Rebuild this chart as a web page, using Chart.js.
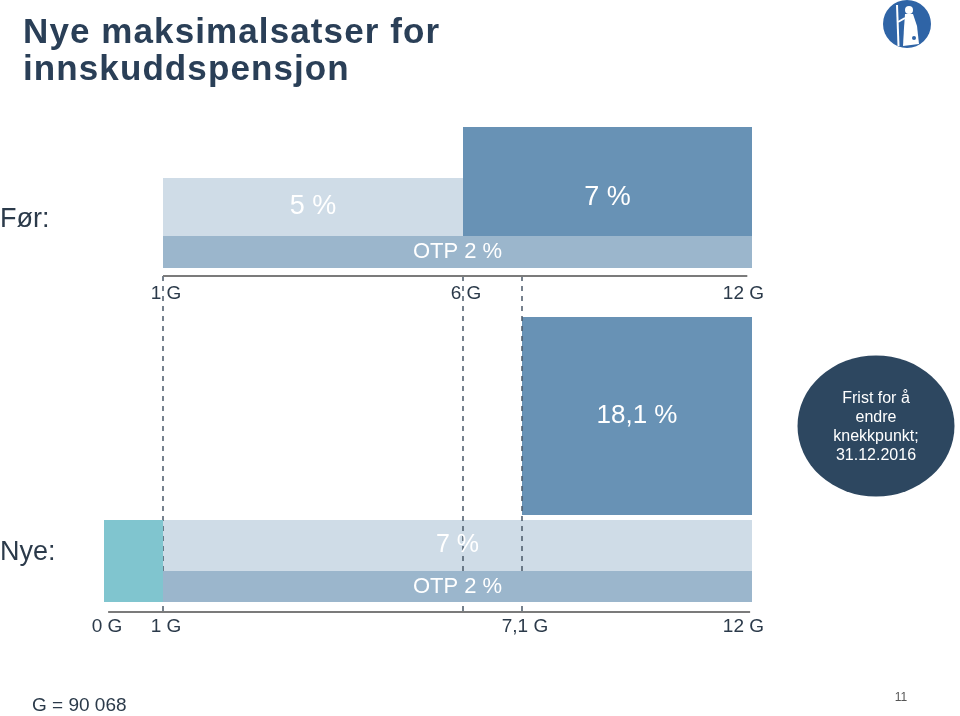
<!DOCTYPE html>
<html>
<head>
<meta charset="utf-8">
<script src="https://cdn.jsdelivr.net/npm/chart.js@4/dist/chart.umd.min.js"></script>
<style>
html,body{margin:0;padding:0;background:#ffffff;overflow:hidden}
canvas{display:block}
</style>
</head>
<body>
<canvas id="c" width="960" height="716"></canvas>
<script>
// ---------------- data ----------------
const titleLines = ['Nye maksimalsatser for', 'innskuddspensjon'];
const rowLabels = ['Før:', 'Nye:'];
const breakpointsG = [0, 1, 6, 7.1, 12];
const forTicksG = [1, 6, 12];
const nyeTicksG = [0, 1, 7.1, 12];
const forBlockLabels = ['5 %', '7 %', 'OTP 2 %'];
const forBlockFromG = [1, 6, 1];
const forBlockToG = [6, 12, 12];
const nyeBlockLabels = ['', '7 %', 'OTP 2 %', '18,1 %'];
const nyeBlockFromG = [0, 1, 1, 7.1];
const nyeBlockToG = [1, 12, 12, 12];
const knekkpunktG = [1, 6, 7.1];
const noteLines = ['Frist for å', 'endre', 'knekkpunkt;', '31.12.2016'];
const gNote = 'G = 90 068';
const pageNumber = '11';
const tickText = g => String(g).replace('.', ',') + ' G';

// ---------------- layout & style ----------------
// the G axis in the original is not drawn to scale: visual weight of each G segment
const segmentWeights = [59, 300, 59, 230];
// vertical layout levels, in percent of the canvas height (y scale 0..100, top to bottom)
const lv = {
  forAxis: 38.55, forTick: 41.06, forRow: 30.73,
  nyeAxis: 85.47, nyeTick: 87.57, nyeRow: 77.23
};
const FONT = "'Liberation Sans', Arial, Helvetica, sans-serif";
const LIGHT = '#CFDCE7', MID = '#9BB6CC', DARK = '#6892B5', TEAL = '#80C5CF';
const forBlockStyle = [
  { band: [24.86, 32.96], color: LIGHT, order: 9, size: 27 },
  { band: [17.74, 32.96], color: DARK, order: 9, size: 27, labelAt: 27.6 },
  { band: [32.96, 37.43], color: MID, order: 3, size: 22 }
];
const nyeBlockStyle = [
  { band: [72.63, 84.08], color: TEAL, order: 3, size: 25 },
  { band: [72.63, 79.75], color: LIGHT, order: 9, size: 25 },
  { band: [79.75, 84.08], color: MID, order: 3, size: 22 },
  { band: [44.27, 71.93], color: DARK, order: 9, size: 26 }
];

// ---------------- piecewise G scale ----------------
class PiecewiseScale extends Chart.LinearScale {
  static id = 'piecewise';
  _seg() {
    return { b: this.options.breaks, w: this.options.weights };
  }
  getPixelForValue(value) {
    const { b, w } = this._seg();
    if (value === null || value === undefined || !b || !w) return super.getPixelForValue(value);
    const total = w.reduce((a, c) => a + c, 0);
    let acc = 0, i = 0;
    while (i < b.length - 2 && value > b[i + 1]) { acc += w[i]; i++; }
    const frac = (acc + w[i] * (value - b[i]) / (b[i + 1] - b[i])) / total;
    return this.getPixelForDecimal(frac);
  }
  getValueForPixel(pixel) {
    const { b, w } = this._seg();
    if (!b || !w) return super.getValueForPixel(pixel);
    const total = w.reduce((a, c) => a + c, 0);
    const frac = this.getDecimalForPixel(pixel) * total;
    let acc = 0, i = 0;
    while (i < w.length - 1 && frac > acc + w[i]) { acc += w[i]; i++; }
    return b[i] + (frac - acc) / w[i] * (b[i + 1] - b[i]);
  }
}
Chart.register(PiecewiseScale);

// ---------------- datasets ----------------
function blockDataset(from, to, st, label) {
  return {
    label: label,
    data: [{ x: from, y: st.band[0] }, { x: to, y: st.band[0] }],
    fill: { value: st.band[1] },
    backgroundColor: st.color,
    borderWidth: 0, pointRadius: 0, pointHoverRadius: 0,
    order: st.order
  };
}
const datasets = [];
forBlockLabels.forEach((l, i) => datasets.push(blockDataset(forBlockFromG[i], forBlockToG[i], forBlockStyle[i], 'Før ' + l)));
nyeBlockLabels.forEach((l, i) => datasets.push(blockDataset(nyeBlockFromG[i], nyeBlockToG[i], nyeBlockStyle[i], 'Nye ' + l)));
knekkpunktG.forEach(g => datasets.push({
  label: 'knekkpunkt ' + g,
  data: [{ x: g, y: lv.forAxis }, { x: g, y: lv.nyeAxis }],
  borderColor: '#4A5868', borderWidth: 1.5, borderDash: [5, 5],
  pointRadius: 0, pointHoverRadius: 0, fill: false, order: 6
}));
datasets.push({
  label: 'akse før',
  data: [{ x: forTicksG[0], y: lv.forAxis }, { x: forTicksG[forTicksG.length - 1] - 0.1, y: lv.forAxis }],
  borderColor: '#7B7B7B', borderWidth: 2, pointRadius: 0, fill: false, order: 5
});
datasets.push({
  label: 'akse nye',
  data: [{ x: nyeTicksG[0] + 0.07, y: lv.nyeAxis }, { x: nyeTicksG[nyeTicksG.length - 1] - 0.04, y: lv.nyeAxis }],
  borderColor: '#7B7B7B', borderWidth: 2, pointRadius: 0, fill: false, order: 5
});

// ---------------- text & decorations ----------------
function textAt(ctx, str, x, y, font, color, align, base) {
  ctx.font = font; ctx.fillStyle = color;
  ctx.textAlign = align || 'center'; ctx.textBaseline = base || 'middle';
  ctx.fillText(str, x, y);
}
const annotations = {
  id: 'annotations',
  afterDatasetsDraw(chart) {
    const { ctx } = chart;
    const x = chart.scales.x, y = chart.scales.y;
    ctx.save();
    // block labels
    const put = (labels, from, to, styles) => labels.forEach((l, i) => {
      if (!l) return;
      const st = styles[i];
      const cx = (x.getPixelForValue(from[i]) + x.getPixelForValue(to[i])) / 2;
      const cy = y.getPixelForValue(st.labelAt !== undefined ? st.labelAt : (st.band[0] + st.band[1]) / 2);
      textAt(ctx, l, cx, cy, st.size + 'px ' + FONT, '#FFFFFF');
    });
    put(forBlockLabels, forBlockFromG, forBlockToG, forBlockStyle);
    put(nyeBlockLabels, nyeBlockFromG, nyeBlockToG, nyeBlockStyle);
    // tick labels
    const ticks = (arr, level) => arr.forEach((g, i) => {
      const px = x.getPixelForValue(g);
      const last = i === arr.length - 1;
      textAt(ctx, tickText(g), last ? px + 12 : px + 3, y.getPixelForValue(level), '19px ' + FONT, '#2B3A4A', last ? 'right' : 'center');
    });
    ticks(forTicksG, lv.forTick);
    ticks(nyeTicksG, lv.nyeTick);
    // row labels
    textAt(ctx, rowLabels[0], 0, y.getPixelForValue(lv.forRow), '27px ' + FONT, '#2B3A4A', 'left');
    textAt(ctx, rowLabels[1], 0, y.getPixelForValue(lv.nyeRow), '27px ' + FONT, '#2B3A4A', 'left');
    ctx.restore();
  },
  afterDraw(chart) {
    const { ctx, chartArea } = chart;
    ctx.save();
    // title
    ctx.font = 'bold 35px ' + FONT;
    ctx.fillStyle = '#2A3F57';
    ctx.textAlign = 'left'; ctx.textBaseline = 'alphabetic';
    if ('letterSpacing' in ctx) ctx.letterSpacing = '1.1px';
    ctx.fillText(titleLines[0], 23, 43);
    ctx.fillText(titleLines[1], 23, 80);
    if ('letterSpacing' in ctx) ctx.letterSpacing = '0px';
    // note ellipse
    const ex = chartArea.right + 124, ey = 426;
    ctx.fillStyle = '#2D4760';
    ctx.beginPath(); ctx.ellipse(ex, ey, 78.5, 70.5, 0, 0, Math.PI * 2); ctx.fill();
    noteLines.forEach((l, i) => textAt(ctx, l, ex, ey - 27 + i * 19, '16px ' + FONT, '#FFFFFF'));
    // logo
    ctx.fillStyle = '#2F64A6';
    ctx.beginPath(); ctx.arc(907, 24, 24, 0, Math.PI * 2); ctx.fill();
    ctx.strokeStyle = '#FFFFFF'; ctx.fillStyle = '#FFFFFF';
    ctx.lineWidth = 2;
    ctx.beginPath(); ctx.moveTo(897, 5); ctx.lineTo(898.5, 46); ctx.stroke();
    ctx.beginPath(); ctx.arc(909, 10, 4, 0, Math.PI * 2); ctx.fill();
    ctx.beginPath();
    ctx.moveTo(905, 14); ctx.lineTo(913, 14); ctx.lineTo(917, 26); ctx.lineTo(919, 44);
    ctx.lineTo(903, 46); ctx.lineTo(904, 28); ctx.closePath(); ctx.fill();
    ctx.beginPath(); ctx.moveTo(905, 18); ctx.lineTo(898, 22); ctx.stroke();
    ctx.fillStyle = '#2F64A6';
    ctx.beginPath(); ctx.arc(914, 38, 2, 0, Math.PI * 2); ctx.fill();
    // footer
    textAt(ctx, gNote, 32, 706, '19px ' + FONT, '#2B3A4A', 'left');
    textAt(ctx, pageNumber, 901, 698, '12px ' + FONT, '#555555');
    ctx.restore();
  }
};

new Chart(document.getElementById('c'), {
  type: 'line',
  data: { datasets },
  options: {
    responsive: false,
    animation: false,
    events: [],
    layout: { padding: { left: 104, right: 208, top: 0, bottom: 0 } },
    scales: {
      x: { type: 'piecewise', min: breakpointsG[0], max: breakpointsG[breakpointsG.length - 1],
           breaks: breakpointsG, weights: segmentWeights, display: false },
      y: { type: 'linear', min: 0, max: 100, reverse: true, display: false }
    },
    plugins: { legend: { display: false }, tooltip: { enabled: false }, title: { display: false } }
  },
  plugins: [annotations]
});
</script>
</body>
</html>
